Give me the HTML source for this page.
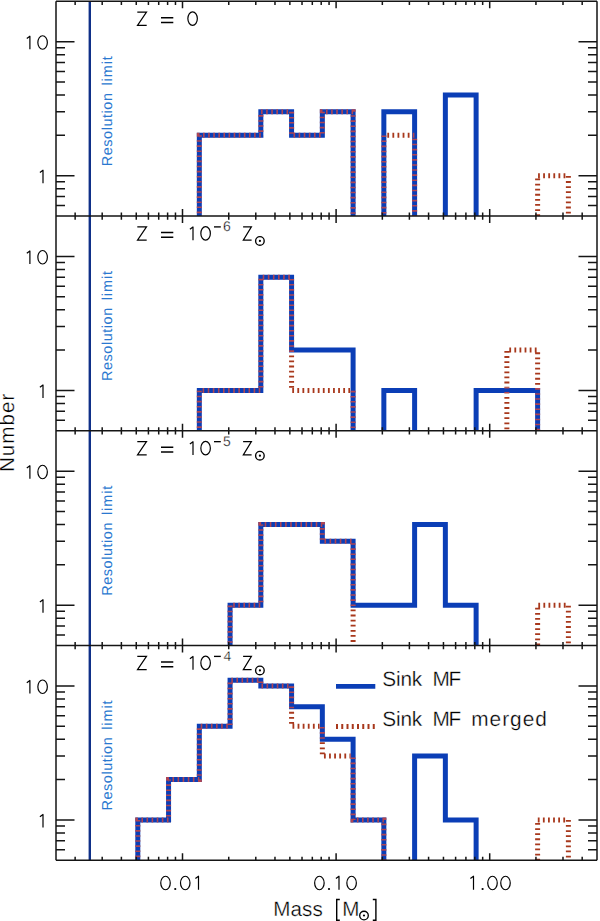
<!DOCTYPE html>
<html><head><meta charset="utf-8"><style>
html,body{margin:0;padding:0;background:#fff;}
body{width:600px;height:921px;position:relative;overflow:hidden;font-family:"Liberation Sans", sans-serif;}
text{font-family:"Liberation Sans", sans-serif;text-rendering:geometricPrecision;}
</style></head><body>
<svg width="600" height="921" viewBox="0 0 600 921" style="position:absolute;left:0;top:0">
<defs>
<clipPath id="c0"><rect x="56.0" y="1.3" width="541.0" height="214.75"/></clipPath>
<mask id="mo0" maskUnits="userSpaceOnUse" x="0" y="0" width="600" height="921"><rect x="0" y="0" width="600" height="921" fill="#000"/><path d="M107.05,228.05 L107.05,228.05 L137.81,228.05 L137.81,228.05 L168.56,228.05 L168.56,228.05 L199.32,228.05 L199.32,135.35 L230.07,135.35 L230.07,135.35 L260.83,135.35 L260.83,111.74 L291.58,111.74 L291.58,135.35 L322.34,135.35 L322.34,111.74 L353.10,111.74 L353.10,228.05 L383.85,228.05 L383.85,111.74 L414.61,111.74 L414.61,228.05 L445.36,228.05 L445.36,95.00 L476.12,95.00 L476.12,228.05 L506.87,228.05 L506.87,228.05 L537.62,228.05 L537.62,228.05 L568.38,228.05 L568.38,228.05 L599.13,228.05 L599.13,228.05" fill="none" stroke="#fff" stroke-width="5.6"/></mask>
<mask id="ms0" maskUnits="userSpaceOnUse" x="0" y="0" width="600" height="921"><rect x="0" y="0" width="600" height="921" fill="#fff"/><path d="M107.05,228.05 L107.05,228.05 L137.81,228.05 L137.81,228.05 L168.56,228.05 L168.56,228.05 L199.32,228.05 L199.32,135.35 L230.07,135.35 L230.07,135.35 L260.83,135.35 L260.83,111.74 L291.58,111.74 L291.58,135.35 L322.34,135.35 L322.34,111.74 L353.10,111.74 L353.10,228.05 L383.85,228.05 L383.85,111.74 L414.61,111.74 L414.61,228.05 L445.36,228.05 L445.36,95.00 L476.12,95.00 L476.12,228.05 L506.87,228.05 L506.87,228.05 L537.62,228.05 L537.62,228.05 L568.38,228.05 L568.38,228.05 L599.13,228.05 L599.13,228.05" fill="none" stroke="#000" stroke-width="5.6"/></mask>
<clipPath id="c1"><rect x="56.0" y="216.05" width="541.0" height="214.75"/></clipPath>
<mask id="mo1" maskUnits="userSpaceOnUse" x="0" y="0" width="600" height="921"><rect x="0" y="0" width="600" height="921" fill="#000"/><path d="M107.05,442.80 L107.05,442.80 L137.81,442.80 L137.81,442.80 L168.56,442.80 L168.56,442.80 L199.32,442.80 L199.32,390.45 L230.07,390.45 L230.07,390.45 L260.83,390.45 L260.83,277.17 L291.58,277.17 L291.58,350.10 L322.34,350.10 L322.34,350.10 L353.10,350.10 L353.10,442.80 L383.85,442.80 L383.85,390.45 L414.61,390.45 L414.61,442.80 L445.36,442.80 L445.36,442.80 L476.12,442.80 L476.12,390.45 L506.87,390.45 L506.87,390.45 L537.62,390.45 L537.62,442.80 L568.38,442.80 L568.38,442.80 L599.13,442.80 L599.13,442.80" fill="none" stroke="#fff" stroke-width="5.6"/></mask>
<mask id="ms1" maskUnits="userSpaceOnUse" x="0" y="0" width="600" height="921"><rect x="0" y="0" width="600" height="921" fill="#fff"/><path d="M107.05,442.80 L107.05,442.80 L137.81,442.80 L137.81,442.80 L168.56,442.80 L168.56,442.80 L199.32,442.80 L199.32,390.45 L230.07,390.45 L230.07,390.45 L260.83,390.45 L260.83,277.17 L291.58,277.17 L291.58,350.10 L322.34,350.10 L322.34,350.10 L353.10,350.10 L353.10,442.80 L383.85,442.80 L383.85,390.45 L414.61,390.45 L414.61,442.80 L445.36,442.80 L445.36,442.80 L476.12,442.80 L476.12,390.45 L506.87,390.45 L506.87,390.45 L537.62,390.45 L537.62,442.80 L568.38,442.80 L568.38,442.80 L599.13,442.80 L599.13,442.80" fill="none" stroke="#000" stroke-width="5.6"/></mask>
<clipPath id="c2"><rect x="56.0" y="430.8" width="541.0" height="214.75"/></clipPath>
<mask id="mo2" maskUnits="userSpaceOnUse" x="0" y="0" width="600" height="921"><rect x="0" y="0" width="600" height="921" fill="#000"/><path d="M107.05,657.55 L107.05,657.55 L137.81,657.55 L137.81,657.55 L168.56,657.55 L168.56,657.55 L199.32,657.55 L199.32,657.55 L230.07,657.55 L230.07,605.20 L260.83,605.20 L260.83,524.50 L291.58,524.50 L291.58,524.50 L322.34,524.50 L322.34,541.24 L353.10,541.24 L353.10,605.20 L383.85,605.20 L383.85,605.20 L414.61,605.20 L414.61,524.50 L445.36,524.50 L445.36,605.20 L476.12,605.20 L476.12,657.55 L506.87,657.55 L506.87,657.55 L537.62,657.55 L537.62,657.55 L568.38,657.55 L568.38,657.55 L599.13,657.55 L599.13,657.55" fill="none" stroke="#fff" stroke-width="5.6"/></mask>
<mask id="ms2" maskUnits="userSpaceOnUse" x="0" y="0" width="600" height="921"><rect x="0" y="0" width="600" height="921" fill="#fff"/><path d="M107.05,657.55 L107.05,657.55 L137.81,657.55 L137.81,657.55 L168.56,657.55 L168.56,657.55 L199.32,657.55 L199.32,657.55 L230.07,657.55 L230.07,605.20 L260.83,605.20 L260.83,524.50 L291.58,524.50 L291.58,524.50 L322.34,524.50 L322.34,541.24 L353.10,541.24 L353.10,605.20 L383.85,605.20 L383.85,605.20 L414.61,605.20 L414.61,524.50 L445.36,524.50 L445.36,605.20 L476.12,605.20 L476.12,657.55 L506.87,657.55 L506.87,657.55 L537.62,657.55 L537.62,657.55 L568.38,657.55 L568.38,657.55 L599.13,657.55 L599.13,657.55" fill="none" stroke="#000" stroke-width="5.6"/></mask>
<clipPath id="c3"><rect x="56.0" y="645.55" width="541.0" height="214.75"/></clipPath>
<mask id="mo3" maskUnits="userSpaceOnUse" x="0" y="0" width="600" height="921"><rect x="0" y="0" width="600" height="921" fill="#000"/><path d="M107.05,872.30 L107.05,872.30 L137.81,872.30 L137.81,819.95 L168.56,819.95 L168.56,779.60 L199.32,779.60 L199.32,726.26 L230.07,726.26 L230.07,680.35 L260.83,680.35 L260.83,685.90 L291.58,685.90 L291.58,706.67 L322.34,706.67 L322.34,739.25 L353.10,739.25 L353.10,819.95 L383.85,819.95 L383.85,872.30 L414.61,872.30 L414.61,755.99 L445.36,755.99 L445.36,819.95 L476.12,819.95 L476.12,872.30 L506.87,872.30 L506.87,872.30 L537.62,872.30 L537.62,872.30 L568.38,872.30 L568.38,872.30 L599.13,872.30 L599.13,872.30" fill="none" stroke="#fff" stroke-width="5.6"/></mask>
<mask id="ms3" maskUnits="userSpaceOnUse" x="0" y="0" width="600" height="921"><rect x="0" y="0" width="600" height="921" fill="#fff"/><path d="M107.05,872.30 L107.05,872.30 L137.81,872.30 L137.81,819.95 L168.56,819.95 L168.56,779.60 L199.32,779.60 L199.32,726.26 L230.07,726.26 L230.07,680.35 L260.83,680.35 L260.83,685.90 L291.58,685.90 L291.58,706.67 L322.34,706.67 L322.34,739.25 L353.10,739.25 L353.10,819.95 L383.85,819.95 L383.85,872.30 L414.61,872.30 L414.61,755.99 L445.36,755.99 L445.36,819.95 L476.12,819.95 L476.12,872.30 L506.87,872.30 L506.87,872.30 L537.62,872.30 L537.62,872.30 L568.38,872.30 L568.38,872.30 L599.13,872.30 L599.13,872.30" fill="none" stroke="#000" stroke-width="5.6"/></mask>
</defs>
<g clip-path="url(#c0)">
<path d="M107.05,228.05 L107.05,228.05 L137.81,228.05 L137.81,228.05 L168.56,228.05 L168.56,228.05 L199.32,228.05 L199.32,135.35 L230.07,135.35 L230.07,135.35 L260.83,135.35 L260.83,111.74 L291.58,111.74 L291.58,135.35 L322.34,135.35 L322.34,111.74 L353.10,111.74 L353.10,228.05 L383.85,228.05 L383.85,111.74 L414.61,111.74 L414.61,228.05 L445.36,228.05 L445.36,95.00 L476.12,95.00 L476.12,228.05 L506.87,228.05 L506.87,228.05 L537.62,228.05 L537.62,228.05 L568.38,228.05 L568.38,228.05 L599.13,228.05 L599.13,228.05" fill="none" stroke="#0b3eb6" stroke-width="5.0" stroke-linejoin="miter"/>
<path d="M107.05,228.05 L107.05,228.05 L137.81,228.05 L137.81,228.05 L168.56,228.05 L168.56,228.05 L199.32,228.05 L199.32,135.35 L230.07,135.35 L230.07,135.35 L260.83,135.35 L260.83,111.74 L291.58,111.74 L291.58,135.35 L322.34,135.35 L322.34,111.74 L353.10,111.74 L353.10,228.05 L383.85,228.05 L383.85,135.35 L414.61,135.35 L414.61,228.05 L445.36,228.05 L445.36,228.05 L476.12,228.05 L476.12,228.05 L506.87,228.05 L506.87,228.05 L537.62,228.05 L537.62,175.70 L568.38,175.70 L568.38,228.05 L599.13,228.05 L599.13,228.05" mask="url(#ms0)" fill="none" stroke="#a8381c" stroke-width="5.0" stroke-dasharray="1.8 3.3" stroke-linejoin="miter"/>
<path d="M107.05,228.05 L107.05,228.05 L137.81,228.05 L137.81,228.05 L168.56,228.05 L168.56,228.05 L199.32,228.05 L199.32,135.35 L230.07,135.35 L230.07,135.35 L260.83,135.35 L260.83,111.74 L291.58,111.74 L291.58,135.35 L322.34,135.35 L322.34,111.74 L353.10,111.74 L353.10,228.05 L383.85,228.05 L383.85,135.35 L414.61,135.35 L414.61,228.05 L445.36,228.05 L445.36,228.05 L476.12,228.05 L476.12,228.05 L506.87,228.05 L506.87,228.05 L537.62,228.05 L537.62,175.70 L568.38,175.70 L568.38,228.05 L599.13,228.05 L599.13,228.05" mask="url(#mo0)" fill="none" stroke="#b04452" stroke-width="5.0" stroke-dasharray="1.6 3.5" stroke-linejoin="miter"/>
</g>
<g clip-path="url(#c1)">
<path d="M107.05,442.80 L107.05,442.80 L137.81,442.80 L137.81,442.80 L168.56,442.80 L168.56,442.80 L199.32,442.80 L199.32,390.45 L230.07,390.45 L230.07,390.45 L260.83,390.45 L260.83,277.17 L291.58,277.17 L291.58,350.10 L322.34,350.10 L322.34,350.10 L353.10,350.10 L353.10,442.80 L383.85,442.80 L383.85,390.45 L414.61,390.45 L414.61,442.80 L445.36,442.80 L445.36,442.80 L476.12,442.80 L476.12,390.45 L506.87,390.45 L506.87,390.45 L537.62,390.45 L537.62,442.80 L568.38,442.80 L568.38,442.80 L599.13,442.80 L599.13,442.80" fill="none" stroke="#0b3eb6" stroke-width="5.0" stroke-linejoin="miter"/>
<path d="M107.05,442.80 L107.05,442.80 L137.81,442.80 L137.81,442.80 L168.56,442.80 L168.56,442.80 L199.32,442.80 L199.32,390.45 L230.07,390.45 L230.07,390.45 L260.83,390.45 L260.83,277.17 L291.58,277.17 L291.58,390.45 L322.34,390.45 L322.34,390.45 L353.10,390.45 L353.10,442.80 L383.85,442.80 L383.85,442.80 L414.61,442.80 L414.61,442.80 L445.36,442.80 L445.36,442.80 L476.12,442.80 L476.12,442.80 L506.87,442.80 L506.87,350.10 L537.62,350.10 L537.62,442.80 L568.38,442.80 L568.38,442.80 L599.13,442.80 L599.13,442.80" mask="url(#ms1)" fill="none" stroke="#a8381c" stroke-width="5.0" stroke-dasharray="1.8 3.3" stroke-linejoin="miter"/>
<path d="M107.05,442.80 L107.05,442.80 L137.81,442.80 L137.81,442.80 L168.56,442.80 L168.56,442.80 L199.32,442.80 L199.32,390.45 L230.07,390.45 L230.07,390.45 L260.83,390.45 L260.83,277.17 L291.58,277.17 L291.58,390.45 L322.34,390.45 L322.34,390.45 L353.10,390.45 L353.10,442.80 L383.85,442.80 L383.85,442.80 L414.61,442.80 L414.61,442.80 L445.36,442.80 L445.36,442.80 L476.12,442.80 L476.12,442.80 L506.87,442.80 L506.87,350.10 L537.62,350.10 L537.62,442.80 L568.38,442.80 L568.38,442.80 L599.13,442.80 L599.13,442.80" mask="url(#mo1)" fill="none" stroke="#b04452" stroke-width="5.0" stroke-dasharray="1.6 3.5" stroke-linejoin="miter"/>
</g>
<g clip-path="url(#c2)">
<path d="M107.05,657.55 L107.05,657.55 L137.81,657.55 L137.81,657.55 L168.56,657.55 L168.56,657.55 L199.32,657.55 L199.32,657.55 L230.07,657.55 L230.07,605.20 L260.83,605.20 L260.83,524.50 L291.58,524.50 L291.58,524.50 L322.34,524.50 L322.34,541.24 L353.10,541.24 L353.10,605.20 L383.85,605.20 L383.85,605.20 L414.61,605.20 L414.61,524.50 L445.36,524.50 L445.36,605.20 L476.12,605.20 L476.12,657.55 L506.87,657.55 L506.87,657.55 L537.62,657.55 L537.62,657.55 L568.38,657.55 L568.38,657.55 L599.13,657.55 L599.13,657.55" fill="none" stroke="#0b3eb6" stroke-width="5.0" stroke-linejoin="miter"/>
<path d="M107.05,657.55 L107.05,657.55 L137.81,657.55 L137.81,657.55 L168.56,657.55 L168.56,657.55 L199.32,657.55 L199.32,657.55 L230.07,657.55 L230.07,605.20 L260.83,605.20 L260.83,524.50 L291.58,524.50 L291.58,524.50 L322.34,524.50 L322.34,541.24 L353.10,541.24 L353.10,657.55 L383.85,657.55 L383.85,657.55 L414.61,657.55 L414.61,657.55 L445.36,657.55 L445.36,657.55 L476.12,657.55 L476.12,657.55 L506.87,657.55 L506.87,657.55 L537.62,657.55 L537.62,605.20 L568.38,605.20 L568.38,657.55 L599.13,657.55 L599.13,657.55" mask="url(#ms2)" fill="none" stroke="#a8381c" stroke-width="5.0" stroke-dasharray="1.8 3.3" stroke-linejoin="miter"/>
<path d="M107.05,657.55 L107.05,657.55 L137.81,657.55 L137.81,657.55 L168.56,657.55 L168.56,657.55 L199.32,657.55 L199.32,657.55 L230.07,657.55 L230.07,605.20 L260.83,605.20 L260.83,524.50 L291.58,524.50 L291.58,524.50 L322.34,524.50 L322.34,541.24 L353.10,541.24 L353.10,657.55 L383.85,657.55 L383.85,657.55 L414.61,657.55 L414.61,657.55 L445.36,657.55 L445.36,657.55 L476.12,657.55 L476.12,657.55 L506.87,657.55 L506.87,657.55 L537.62,657.55 L537.62,605.20 L568.38,605.20 L568.38,657.55 L599.13,657.55 L599.13,657.55" mask="url(#mo2)" fill="none" stroke="#b04452" stroke-width="5.0" stroke-dasharray="1.6 3.5" stroke-linejoin="miter"/>
</g>
<g clip-path="url(#c3)">
<path d="M107.05,872.30 L107.05,872.30 L137.81,872.30 L137.81,819.95 L168.56,819.95 L168.56,779.60 L199.32,779.60 L199.32,726.26 L230.07,726.26 L230.07,680.35 L260.83,680.35 L260.83,685.90 L291.58,685.90 L291.58,706.67 L322.34,706.67 L322.34,739.25 L353.10,739.25 L353.10,819.95 L383.85,819.95 L383.85,872.30 L414.61,872.30 L414.61,755.99 L445.36,755.99 L445.36,819.95 L476.12,819.95 L476.12,872.30 L506.87,872.30 L506.87,872.30 L537.62,872.30 L537.62,872.30 L568.38,872.30 L568.38,872.30 L599.13,872.30 L599.13,872.30" fill="none" stroke="#0b3eb6" stroke-width="5.0" stroke-linejoin="miter"/>
<path d="M107.05,872.30 L107.05,872.30 L137.81,872.30 L137.81,819.95 L168.56,819.95 L168.56,779.60 L199.32,779.60 L199.32,726.26 L230.07,726.26 L230.07,680.35 L260.83,680.35 L260.83,685.90 L291.58,685.90 L291.58,726.26 L322.34,726.26 L322.34,755.99 L353.10,755.99 L353.10,819.95 L383.85,819.95 L383.85,872.30 L414.61,872.30 L414.61,872.30 L445.36,872.30 L445.36,872.30 L476.12,872.30 L476.12,872.30 L506.87,872.30 L506.87,872.30 L537.62,872.30 L537.62,819.95 L568.38,819.95 L568.38,872.30 L599.13,872.30 L599.13,872.30" mask="url(#ms3)" fill="none" stroke="#a8381c" stroke-width="5.0" stroke-dasharray="1.8 3.3" stroke-linejoin="miter"/>
<path d="M107.05,872.30 L107.05,872.30 L137.81,872.30 L137.81,819.95 L168.56,819.95 L168.56,779.60 L199.32,779.60 L199.32,726.26 L230.07,726.26 L230.07,680.35 L260.83,680.35 L260.83,685.90 L291.58,685.90 L291.58,726.26 L322.34,726.26 L322.34,755.99 L353.10,755.99 L353.10,819.95 L383.85,819.95 L383.85,872.30 L414.61,872.30 L414.61,872.30 L445.36,872.30 L445.36,872.30 L476.12,872.30 L476.12,872.30 L506.87,872.30 L506.87,872.30 L537.62,872.30 L537.62,819.95 L568.38,819.95 L568.38,872.30 L599.13,872.30 L599.13,872.30" mask="url(#mo3)" fill="none" stroke="#b04452" stroke-width="5.0" stroke-dasharray="1.6 3.5" stroke-linejoin="miter"/>
</g>
<line x1="89.8" y1="1.3" x2="89.8" y2="860.3" stroke="#0f3088" stroke-width="2.4"/>
<path d="M56.0,205.44h9 M597.0,205.44h-9 M56.0,196.47h9 M597.0,196.47h-9 M56.0,188.69h9 M597.0,188.69h-9 M56.0,181.84h9 M597.0,181.84h-9 M56.0,175.70h18.5 M597.0,175.70h-18.5 M56.0,135.35h9 M597.0,135.35h-9 M56.0,111.74h9 M597.0,111.74h-9 M56.0,95.00h9 M597.0,95.00h-9 M56.0,82.01h9 M597.0,82.01h-9 M56.0,71.39h9 M597.0,71.39h-9 M56.0,62.42h9 M597.0,62.42h-9 M56.0,54.64h9 M597.0,54.64h-9 M56.0,47.79h9 M597.0,47.79h-9 M56.0,41.65h18.5 M597.0,41.65h-18.5 M75.14,1.3v3.6 M75.14,216.05v-3.6 M102.19,1.3v3.6 M102.19,216.05v-3.6 M121.38,1.3v3.6 M121.38,216.05v-3.6 M136.26,1.3v3.6 M136.26,216.05v-3.6 M148.42,1.3v3.6 M148.42,216.05v-3.6 M158.71,1.3v3.6 M158.71,216.05v-3.6 M167.61,1.3v3.6 M167.61,216.05v-3.6 M175.47,1.3v3.6 M175.47,216.05v-3.6 M182.50,1.3v7 M182.50,216.05v-7 M228.74,1.3v3.6 M228.74,216.05v-3.6 M255.79,1.3v3.6 M255.79,216.05v-3.6 M274.98,1.3v3.6 M274.98,216.05v-3.6 M289.86,1.3v3.6 M289.86,216.05v-3.6 M302.02,1.3v3.6 M302.02,216.05v-3.6 M312.31,1.3v3.6 M312.31,216.05v-3.6 M321.21,1.3v3.6 M321.21,216.05v-3.6 M329.07,1.3v3.6 M329.07,216.05v-3.6 M336.10,1.3v7 M336.10,216.05v-7 M382.34,1.3v3.6 M382.34,216.05v-3.6 M409.39,1.3v3.6 M409.39,216.05v-3.6 M428.58,1.3v3.6 M428.58,216.05v-3.6 M443.46,1.3v3.6 M443.46,216.05v-3.6 M455.62,1.3v3.6 M455.62,216.05v-3.6 M465.91,1.3v3.6 M465.91,216.05v-3.6 M474.81,1.3v3.6 M474.81,216.05v-3.6 M482.67,1.3v3.6 M482.67,216.05v-3.6 M489.70,1.3v7 M489.70,216.05v-7 M535.94,1.3v3.6 M535.94,216.05v-3.6 M562.99,1.3v3.6 M562.99,216.05v-3.6 M582.18,1.3v3.6 M582.18,216.05v-3.6 M56.0,420.19h9 M597.0,420.19h-9 M56.0,411.22h9 M597.0,411.22h-9 M56.0,403.44h9 M597.0,403.44h-9 M56.0,396.59h9 M597.0,396.59h-9 M56.0,390.45h18.5 M597.0,390.45h-18.5 M56.0,350.10h9 M597.0,350.10h-9 M56.0,326.49h9 M597.0,326.49h-9 M56.0,309.75h9 M597.0,309.75h-9 M56.0,296.76h9 M597.0,296.76h-9 M56.0,286.14h9 M597.0,286.14h-9 M56.0,277.17h9 M597.0,277.17h-9 M56.0,269.39h9 M597.0,269.39h-9 M56.0,262.54h9 M597.0,262.54h-9 M56.0,256.40h18.5 M597.0,256.40h-18.5 M75.14,216.05v3.6 M75.14,430.8v-3.6 M102.19,216.05v3.6 M102.19,430.8v-3.6 M121.38,216.05v3.6 M121.38,430.8v-3.6 M136.26,216.05v3.6 M136.26,430.8v-3.6 M148.42,216.05v3.6 M148.42,430.8v-3.6 M158.71,216.05v3.6 M158.71,430.8v-3.6 M167.61,216.05v3.6 M167.61,430.8v-3.6 M175.47,216.05v3.6 M175.47,430.8v-3.6 M182.50,216.05v7 M182.50,430.8v-7 M228.74,216.05v3.6 M228.74,430.8v-3.6 M255.79,216.05v3.6 M255.79,430.8v-3.6 M274.98,216.05v3.6 M274.98,430.8v-3.6 M289.86,216.05v3.6 M289.86,430.8v-3.6 M302.02,216.05v3.6 M302.02,430.8v-3.6 M312.31,216.05v3.6 M312.31,430.8v-3.6 M321.21,216.05v3.6 M321.21,430.8v-3.6 M329.07,216.05v3.6 M329.07,430.8v-3.6 M336.10,216.05v7 M336.10,430.8v-7 M382.34,216.05v3.6 M382.34,430.8v-3.6 M409.39,216.05v3.6 M409.39,430.8v-3.6 M428.58,216.05v3.6 M428.58,430.8v-3.6 M443.46,216.05v3.6 M443.46,430.8v-3.6 M455.62,216.05v3.6 M455.62,430.8v-3.6 M465.91,216.05v3.6 M465.91,430.8v-3.6 M474.81,216.05v3.6 M474.81,430.8v-3.6 M482.67,216.05v3.6 M482.67,430.8v-3.6 M489.70,216.05v7 M489.70,430.8v-7 M535.94,216.05v3.6 M535.94,430.8v-3.6 M562.99,216.05v3.6 M562.99,430.8v-3.6 M582.18,216.05v3.6 M582.18,430.8v-3.6 M56.0,634.94h9 M597.0,634.94h-9 M56.0,625.97h9 M597.0,625.97h-9 M56.0,618.19h9 M597.0,618.19h-9 M56.0,611.34h9 M597.0,611.34h-9 M56.0,605.20h18.5 M597.0,605.20h-18.5 M56.0,564.85h9 M597.0,564.85h-9 M56.0,541.24h9 M597.0,541.24h-9 M56.0,524.50h9 M597.0,524.50h-9 M56.0,511.51h9 M597.0,511.51h-9 M56.0,500.89h9 M597.0,500.89h-9 M56.0,491.92h9 M597.0,491.92h-9 M56.0,484.14h9 M597.0,484.14h-9 M56.0,477.29h9 M597.0,477.29h-9 M56.0,471.15h18.5 M597.0,471.15h-18.5 M75.14,430.8v3.6 M75.14,645.55v-3.6 M102.19,430.8v3.6 M102.19,645.55v-3.6 M121.38,430.8v3.6 M121.38,645.55v-3.6 M136.26,430.8v3.6 M136.26,645.55v-3.6 M148.42,430.8v3.6 M148.42,645.55v-3.6 M158.71,430.8v3.6 M158.71,645.55v-3.6 M167.61,430.8v3.6 M167.61,645.55v-3.6 M175.47,430.8v3.6 M175.47,645.55v-3.6 M182.50,430.8v7 M182.50,645.55v-7 M228.74,430.8v3.6 M228.74,645.55v-3.6 M255.79,430.8v3.6 M255.79,645.55v-3.6 M274.98,430.8v3.6 M274.98,645.55v-3.6 M289.86,430.8v3.6 M289.86,645.55v-3.6 M302.02,430.8v3.6 M302.02,645.55v-3.6 M312.31,430.8v3.6 M312.31,645.55v-3.6 M321.21,430.8v3.6 M321.21,645.55v-3.6 M329.07,430.8v3.6 M329.07,645.55v-3.6 M336.10,430.8v7 M336.10,645.55v-7 M382.34,430.8v3.6 M382.34,645.55v-3.6 M409.39,430.8v3.6 M409.39,645.55v-3.6 M428.58,430.8v3.6 M428.58,645.55v-3.6 M443.46,430.8v3.6 M443.46,645.55v-3.6 M455.62,430.8v3.6 M455.62,645.55v-3.6 M465.91,430.8v3.6 M465.91,645.55v-3.6 M474.81,430.8v3.6 M474.81,645.55v-3.6 M482.67,430.8v3.6 M482.67,645.55v-3.6 M489.70,430.8v7 M489.70,645.55v-7 M535.94,430.8v3.6 M535.94,645.55v-3.6 M562.99,430.8v3.6 M562.99,645.55v-3.6 M582.18,430.8v3.6 M582.18,645.55v-3.6 M56.0,849.69h9 M597.0,849.69h-9 M56.0,840.72h9 M597.0,840.72h-9 M56.0,832.94h9 M597.0,832.94h-9 M56.0,826.09h9 M597.0,826.09h-9 M56.0,819.95h18.5 M597.0,819.95h-18.5 M56.0,779.60h9 M597.0,779.60h-9 M56.0,755.99h9 M597.0,755.99h-9 M56.0,739.25h9 M597.0,739.25h-9 M56.0,726.26h9 M597.0,726.26h-9 M56.0,715.64h9 M597.0,715.64h-9 M56.0,706.67h9 M597.0,706.67h-9 M56.0,698.89h9 M597.0,698.89h-9 M56.0,692.04h9 M597.0,692.04h-9 M56.0,685.90h18.5 M597.0,685.90h-18.5 M75.14,645.55v3.6 M75.14,860.3v-3.6 M102.19,645.55v3.6 M102.19,860.3v-3.6 M121.38,645.55v3.6 M121.38,860.3v-3.6 M136.26,645.55v3.6 M136.26,860.3v-3.6 M148.42,645.55v3.6 M148.42,860.3v-3.6 M158.71,645.55v3.6 M158.71,860.3v-3.6 M167.61,645.55v3.6 M167.61,860.3v-3.6 M175.47,645.55v3.6 M175.47,860.3v-3.6 M182.50,645.55v7 M182.50,860.3v-7 M228.74,645.55v3.6 M228.74,860.3v-3.6 M255.79,645.55v3.6 M255.79,860.3v-3.6 M274.98,645.55v3.6 M274.98,860.3v-3.6 M289.86,645.55v3.6 M289.86,860.3v-3.6 M302.02,645.55v3.6 M302.02,860.3v-3.6 M312.31,645.55v3.6 M312.31,860.3v-3.6 M321.21,645.55v3.6 M321.21,860.3v-3.6 M329.07,645.55v3.6 M329.07,860.3v-3.6 M336.10,645.55v7 M336.10,860.3v-7 M382.34,645.55v3.6 M382.34,860.3v-3.6 M409.39,645.55v3.6 M409.39,860.3v-3.6 M428.58,645.55v3.6 M428.58,860.3v-3.6 M443.46,645.55v3.6 M443.46,860.3v-3.6 M455.62,645.55v3.6 M455.62,860.3v-3.6 M465.91,645.55v3.6 M465.91,860.3v-3.6 M474.81,645.55v3.6 M474.81,860.3v-3.6 M482.67,645.55v3.6 M482.67,860.3v-3.6 M489.70,645.55v7 M489.70,860.3v-7 M535.94,645.55v3.6 M535.94,860.3v-3.6 M562.99,645.55v3.6 M562.99,860.3v-3.6 M582.18,645.55v3.6 M582.18,860.3v-3.6" stroke="#151515" stroke-width="1.5" fill="none"/>
<path d="M56.0,1.3H597.0 M56.0,216.05H597.0 M56.0,430.8H597.0 M56.0,645.55H597.0 M56.0,860.3H597.0 M56.0,1.3V860.3 M597.0,1.3V860.3" stroke="#151515" stroke-width="1.5" fill="none"/>
<line x1="336" y1="686.3" x2="375.3" y2="686.3" stroke="#0b3eb6" stroke-width="4.7"/>
<line x1="336" y1="726.5" x2="375.5" y2="726.5" stroke="#a8381c" stroke-width="5" stroke-dasharray="2 3.25"/>
<g font-family="Liberation Sans" stroke="#fff" stroke-width="0.3"><text x="223.00" y="231.00" font-size="14.0" letter-spacing="0.000" fill="#000">6</text><text x="223.00" y="445.75" font-size="14.0" letter-spacing="0.000" fill="#000">5</text><text x="223.50" y="660.50" font-size="14.0" letter-spacing="0.000" fill="#000">4</text><text x="273.25" y="916.00" font-size="20.6" letter-spacing="0.083" fill="#000">Mass</text><text x="342.25" y="916.00" font-size="20.6" letter-spacing="0.000" fill="#000">M</text><text transform="translate(14.30,472.05) rotate(-90)" font-size="20.6" letter-spacing="1.010" fill="#000">Number</text><text x="382.25" y="686.00" font-size="20.8" letter-spacing="-0.167" fill="#000">Sink</text><text x="432.50" y="686.00" font-size="20.8" letter-spacing="-1.250" fill="#000">MF</text><text x="382.25" y="726.00" font-size="20.8" letter-spacing="-0.167" fill="#000">Sink</text><text x="432.50" y="726.00" font-size="20.8" letter-spacing="-1.250" fill="#000">MF</text><text x="471.25" y="726.00" font-size="20.8" letter-spacing="1.000" fill="#000">merged</text></g><g font-family="Liberation Sans"><text transform="translate(112.40,166.25) rotate(-90)" font-size="14.5" letter-spacing="0.528" fill="#2a78d0">Resolution</text><text transform="translate(112.40,85.50) rotate(-90)" font-size="14.5" letter-spacing="0.887" fill="#2a78d0">limit</text><text transform="translate(112.40,381.00) rotate(-90)" font-size="14.5" letter-spacing="0.528" fill="#2a78d0">Resolution</text><text transform="translate(112.40,300.25) rotate(-90)" font-size="14.5" letter-spacing="0.888" fill="#2a78d0">limit</text><text transform="translate(112.40,595.75) rotate(-90)" font-size="14.5" letter-spacing="0.528" fill="#2a78d0">Resolution</text><text transform="translate(112.40,515.00) rotate(-90)" font-size="14.5" letter-spacing="0.888" fill="#2a78d0">limit</text><text transform="translate(112.40,810.50) rotate(-90)" font-size="14.5" letter-spacing="0.528" fill="#2a78d0">Resolution</text><text transform="translate(112.40,729.75) rotate(-90)" font-size="14.5" letter-spacing="0.887" fill="#2a78d0">limit</text></g><path d="M26.80,38.55L29.90,36.25V49.25" fill="none" stroke="#000" stroke-width="1.2" stroke-linejoin="round"/><ellipse cx="42.6" cy="42.5" rx="4.75" ry="6.75" fill="none" stroke="#000" stroke-width="1.2"/><path d="M39.90,172.55L43.00,170.25V183.25" fill="none" stroke="#000" stroke-width="1.2" stroke-linejoin="round"/><path d="M137.30,12.15H146.50L137.50,25.35H146.70" fill="none" stroke="#000" stroke-width="1.2" stroke-linejoin="miter"/><ellipse cx="192.6" cy="18.6" rx="4.75" ry="6.75" fill="none" stroke="#000" stroke-width="1.2"/><path d="M26.80,253.30L29.90,251.00V264.00" fill="none" stroke="#000" stroke-width="1.2" stroke-linejoin="round"/><ellipse cx="42.6" cy="257.25" rx="4.75" ry="6.75" fill="none" stroke="#000" stroke-width="1.2"/><path d="M39.90,387.30L43.00,385.00V398.00" fill="none" stroke="#000" stroke-width="1.2" stroke-linejoin="round"/><path d="M137.30,226.90H146.50L137.50,240.10H146.70" fill="none" stroke="#000" stroke-width="1.2" stroke-linejoin="miter"/><path d="M189.90,229.30L193.00,227.00V240.25" fill="none" stroke="#000" stroke-width="1.2" stroke-linejoin="round"/><ellipse cx="205.6" cy="233.4" rx="4.75" ry="6.75" fill="none" stroke="#000" stroke-width="1.2"/><path d="M243.10,226.85H251.40L243.30,240.15H251.60" fill="none" stroke="#000" stroke-width="1.2" stroke-linejoin="miter"/><path d="M26.80,468.05L29.90,465.75V478.75" fill="none" stroke="#000" stroke-width="1.2" stroke-linejoin="round"/><ellipse cx="42.6" cy="472.0" rx="4.75" ry="6.75" fill="none" stroke="#000" stroke-width="1.2"/><path d="M39.90,602.05L43.00,599.75V612.75" fill="none" stroke="#000" stroke-width="1.2" stroke-linejoin="round"/><path d="M137.30,441.65H146.50L137.50,454.85H146.70" fill="none" stroke="#000" stroke-width="1.2" stroke-linejoin="miter"/><path d="M189.90,444.05L193.00,441.75V455.00" fill="none" stroke="#000" stroke-width="1.2" stroke-linejoin="round"/><ellipse cx="205.6" cy="448.15" rx="4.75" ry="6.75" fill="none" stroke="#000" stroke-width="1.2"/><path d="M243.10,441.60H251.40L243.30,454.90H251.60" fill="none" stroke="#000" stroke-width="1.2" stroke-linejoin="miter"/><path d="M26.80,682.80L29.90,680.50V693.50" fill="none" stroke="#000" stroke-width="1.2" stroke-linejoin="round"/><ellipse cx="42.6" cy="686.75" rx="4.75" ry="6.75" fill="none" stroke="#000" stroke-width="1.2"/><path d="M39.90,816.80L43.00,814.50V827.50" fill="none" stroke="#000" stroke-width="1.2" stroke-linejoin="round"/><path d="M137.30,656.40H146.50L137.50,669.60H146.70" fill="none" stroke="#000" stroke-width="1.2" stroke-linejoin="miter"/><path d="M189.90,658.80L193.00,656.50V669.75" fill="none" stroke="#000" stroke-width="1.2" stroke-linejoin="round"/><ellipse cx="205.6" cy="662.9" rx="4.75" ry="6.75" fill="none" stroke="#000" stroke-width="1.2"/><path d="M243.10,656.35H251.40L243.30,669.65H251.60" fill="none" stroke="#000" stroke-width="1.2" stroke-linejoin="miter"/><ellipse cx="165.5" cy="883" rx="4.75" ry="6.75" fill="none" stroke="#000" stroke-width="1.2"/><circle cx="175.25" cy="889.0" r="1.1" fill="#000"/><ellipse cx="185.25" cy="883" rx="4.75" ry="6.75" fill="none" stroke="#000" stroke-width="1.2"/><path d="M195.40,878.55L198.50,876.25V889.75" fill="none" stroke="#000" stroke-width="1.2" stroke-linejoin="round"/><ellipse cx="319.4" cy="883" rx="4.75" ry="6.75" fill="none" stroke="#000" stroke-width="1.2"/><circle cx="329.0" cy="889.0" r="1.1" fill="#000"/><path d="M335.90,878.55L339.00,876.25V889.75" fill="none" stroke="#000" stroke-width="1.2" stroke-linejoin="round"/><ellipse cx="351.6" cy="883" rx="4.75" ry="6.75" fill="none" stroke="#000" stroke-width="1.2"/><path d="M470.40,878.55L473.50,876.25V889.75" fill="none" stroke="#000" stroke-width="1.2" stroke-linejoin="round"/><circle cx="482.6" cy="889.0" r="1.1" fill="#000"/><ellipse cx="492.5" cy="883" rx="4.75" ry="6.75" fill="none" stroke="#000" stroke-width="1.2"/><ellipse cx="505.5" cy="883" rx="4.75" ry="6.75" fill="none" stroke="#000" stroke-width="1.2"/><path d="M161,17.7H173.3M161,22.4H173.3" stroke="#000" stroke-width="1.45"/><path d="M161,232.45H173.3M161,237.15H173.3" stroke="#000" stroke-width="1.45"/><path d="M214,226.9H220.8" stroke="#000" stroke-width="1.35"/><circle cx="259.9" cy="240.9" r="4.3" fill="none" stroke="#000" stroke-width="1.35"/><circle cx="259.9" cy="240.9" r="1.1" fill="#000"/><path d="M161,447.2H173.3M161,451.9H173.3" stroke="#000" stroke-width="1.45"/><path d="M214,441.65H220.8" stroke="#000" stroke-width="1.35"/><circle cx="259.9" cy="455.65" r="4.3" fill="none" stroke="#000" stroke-width="1.35"/><circle cx="259.9" cy="455.65" r="1.1" fill="#000"/><path d="M161,661.95H173.3M161,666.65H173.3" stroke="#000" stroke-width="1.45"/><path d="M214,656.4H220.8" stroke="#000" stroke-width="1.35"/><circle cx="259.9" cy="670.4" r="4.3" fill="none" stroke="#000" stroke-width="1.35"/><circle cx="259.9" cy="670.4" r="1.1" fill="#000"/><circle cx="364" cy="915.5" r="4.3" fill="none" stroke="#000" stroke-width="1.35"/><circle cx="364" cy="915.5" r="1.1" fill="#000"/><path d="M339.8,899.5H336.7V920.2H339.8M372.8,899.5H375.9V920.2H372.8" fill="none" stroke="#000" stroke-width="1.4"/>
</svg>
</body></html>
